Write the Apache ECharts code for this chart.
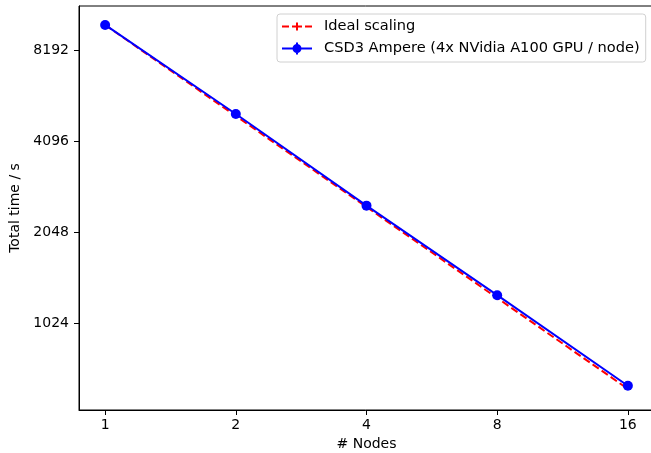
<!DOCTYPE html>
<html>
<head>
<meta charset="utf-8">
<script src="https://cdn.jsdelivr.net/npm/echarts@6/dist/echarts.min.js"></script>
<style>
  html, body { margin: 0; padding: 0; background: #fff; }
  #chart { width: 651px; height: 453px; }
</style>
</head>
<body>
<div id="chart"></div>
<script>
// number of nodes
const nodes = [1, 2, 4, 8, 16]
// measured total time (s), CSD3 Ampere
const totalTime = [9913, 5030, 2503, 1266, 635]
// ideal scaling line (s)
const idealTime = [9913, 4957, 2478, 1239, 620]
// tick labels shown on the axes
const xTicks = [1, 2, 4, 8, 16]
const yTicks = [1024, 2048, 4096, 8192]

const font = 'DejaVu Sans'
const fs = 14

// legend handles (30 x 14 box)
const idealIcon = 'path://M0 6H7V8H0Z M10 6H20V8H10Z M23 6H30V8H23Z M14 3H16V11H14Z'
const measIcon = 'path://M0 6H30V8H0Z M14 1H16V13H14Z M10.5 7A4.5 4.5 0 1 1 19.5 7A4.5 4.5 0 1 1 10.5 7Z'

const chart = echarts.init(document.getElementById('chart'))

const plain = v => String(Math.round(v))

chart.setOption({
  animation: false,
  textStyle: { fontFamily: font },
  grid: {
    left: 79, right: -3, top: 6, bottom: 43,
    outerBoundsMode: 'none',
    containLabel: false,
    show: true, borderColor: '#000', borderWidth: 1, backgroundColor: 'transparent'
  },
  legend: {
    orient: 'vertical',
    left: 277, top: 14,
    padding: [5, 6, 6, 5],
    itemWidth: 30, itemHeight: 14, itemGap: 7,
    backgroundColor: 'rgba(255,255,255,0.8)',
    borderColor: '#d0d0d0', borderWidth: 1, borderRadius: 3,
    textStyle: { fontFamily: font, fontSize: 14.6, color: '#000', padding: [0, 0, 0, 7] },
    data: [
      { name: 'Ideal scaling', icon: idealIcon },
      { name: 'CSD3 Ampere (4x NVidia A100 GPU / node)', icon: measIcon }
    ]
  },
  xAxis: {
    type: 'log', logBase: 2,
    min: Math.pow(2, -0.2), max: Math.pow(2, 4.2),
    name: '# Nodes', nameLocation: 'middle', nameGap: 24,
    nameTextStyle: { fontFamily: font, fontSize: fs, color: '#000' },
    axisLine: { lineStyle: { color: '#000', width: 1 } },
    axisTick: { length: 5, lineStyle: { color: '#000' }, customValues: xTicks },
    axisLabel: { margin: 8, fontFamily: font, fontSize: fs, color: '#000', customValues: xTicks, formatter: plain },
    splitLine: { show: false }
  },
  yAxis: {
    type: 'log', logBase: 2,
    min: 528, max: 11450,
    name: 'Total time / s', nameLocation: 'middle', nameGap: 56,
    nameTextStyle: { fontFamily: font, fontSize: fs, color: '#000' },
    axisLine: { show: true, lineStyle: { color: '#000', width: 1 } },
    axisTick: { show: true, length: 5, lineStyle: { color: '#000' }, customValues: yTicks },
    axisLabel: { margin: 10, fontFamily: font, fontSize: fs, color: '#000', customValues: yTicks, formatter: plain },
    splitLine: { show: false }
  },
  series: [
    {
      name: 'Ideal scaling',
      type: 'line',
      data: nodes.map((n, i) => [n, idealTime[i]]),
      showSymbol: false,
      lineStyle: { color: '#ff0000', width: 2, type: [7.5, 3.5] },
      itemStyle: { color: '#ff0000' }
    },
    {
      name: 'CSD3 Ampere (4x NVidia A100 GPU / node)',
      type: 'line',
      data: nodes.map((n, i) => [n, totalTime[i]]),
      symbol: 'circle', symbolSize: 10,
      lineStyle: { color: '#0000ff', width: 2 },
      itemStyle: { color: '#0000ff' }
    }
  ]
})
</script>
</body>
</html>
